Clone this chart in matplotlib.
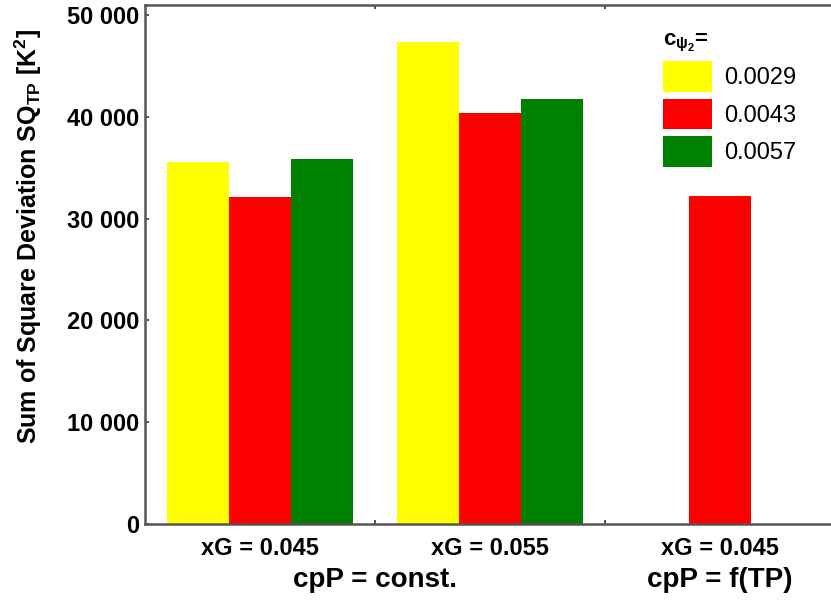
import matplotlib
matplotlib.use("Agg")
import matplotlib.pyplot as plt
import numpy as np

plt.rcParams['font.family'] = ['Liberation Sans', 'DejaVu Sans']
plt.rcParams['mathtext.fontset'] = 'custom'
plt.rcParams['mathtext.rm'] = 'Liberation Sans'
plt.rcParams['mathtext.it'] = 'Liberation Sans'
plt.rcParams['mathtext.bf'] = 'Liberation Sans:bold'

# ---------------------------------------------------------------
groups = ["xG = 0.045", "xG = 0.055", "xG = 0.045"]
cases = ["cpP = const.", "cpP = f(TP)"]
series_names = ["0.0029", "0.0043", "0.0057"]
sq_0029 = [35600, 47400, np.nan]
sq_0043 = [32150, 40400, 32250]
sq_0057 = [35900, 41800, np.nan]
colors = ["#ffff00", "#ff0000", "#008000"]
# ---------------------------------------------------------------

fig = plt.figure(figsize=(8.31, 6.03), dpi=100)
ax = fig.add_axes([0.1745, 0.131, 0.8255, 0.8607])

x = np.arange(len(groups))
w = 0.27
for k, (vals, c, lab) in enumerate(zip([sq_0029, sq_0043, sq_0057], colors, series_names)):
    vals = np.array(vals, dtype=float)
    xs = x + (k - 1) * w
    ax.bar(xs, vals, width=w, color=c, label=lab, linewidth=0)

ax.set_xlim(-0.5, 2.483)
ax.set_ylim(0, 51000)

ax.set_yticks([0, 10000, 20000, 30000, 40000, 50000])
ax.set_yticklabels(["0", "10 000", "20 000", "30 000", "40 000", "50 000"],
                   fontsize=17, fontweight='bold')
ax.set_xticks(x)
ax.set_xticklabels(groups, fontsize=17, fontweight='bold')
ax.set_xticks([0.5, 1.5], minor=True)
ax.tick_params(axis='x', which='major', length=0, pad=9)
ax.tick_params(axis='x', which='minor', direction='in', length=3, top=True,
               width=1.2, color='#333333')
ax.tick_params(axis='y', direction='in', length=3, width=1.2, color='#333333', pad=4)

for s in ['left', 'bottom', 'top']:
    ax.spines[s].set_color('#555555')
    ax.spines[s].set_linewidth(1.8)
ax.spines['right'].set_visible(False)

ax.set_ylabel(r'Sum of Square Deviation SQ$_{\mathbf{TP}}$ [K$^{\mathbf{2}}$]',
              fontsize=18, fontweight='bold')
ax.yaxis.set_label_coords(-0.147, 0.555)

# group captions below the tick labels
ax.text(0.5, -0.107, cases[0], transform=ax.get_xaxis_transform(),
        ha='center', va='center', fontsize=20, fontweight='bold')
ax.text(2.0, -0.107, cases[1], transform=ax.get_xaxis_transform(),
        ha='center', va='center', fontsize=20, fontweight='bold')

leg = ax.legend(loc='upper left', bbox_to_anchor=(0.738, 0.975), frameon=False,
                fontsize=17, handlelength=2.08, handleheight=1.6,
                labelspacing=0.3, handletextpad=0.5, borderpad=0,
                title=r'c$_{\mathbf{\psi_2}}$=', alignment='left')
leg.get_title().set_fontsize(16)
leg.get_title().set_fontweight('bold')

fig.savefig("out.png", dpi=100)
